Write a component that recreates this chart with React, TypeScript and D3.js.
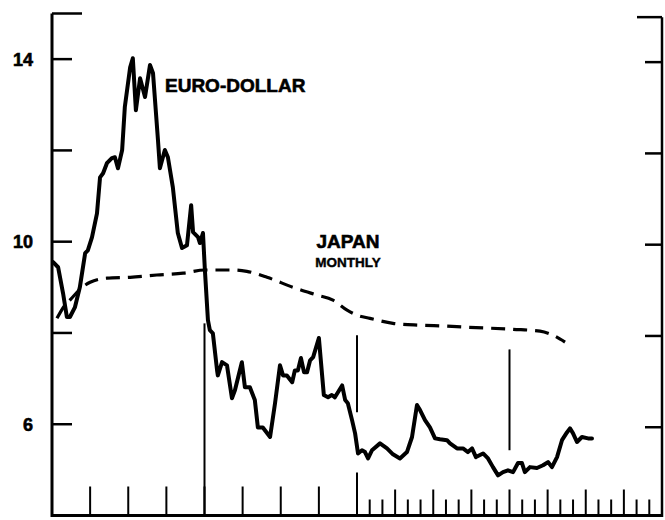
import React from 'react';
import * as d3 from 'd3';

// period index: 0..8 = quarters (first two years), 8..32 = months (last two years)
const euroPeriods = [
  0.03, 0.16, 0.29, 0.39, 0.47, 0.6, 0.73, 0.87, 0.94, 1.05, 1.18, 1.26, 1.34, 1.44, 1.57, 1.65,
  1.73, 1.84, 1.91, 2.05, 2.12, 2.2, 2.31, 2.44, 2.57, 2.65, 2.78, 2.83, 2.96, 3.04, 3.17, 3.3,
  3.41, 3.54, 3.65, 3.7, 3.83, 3.88, 3.96, 4.01, 4.09, 4.14, 4.22, 4.33, 4.35, 4.46, 4.59, 4.72,
  4.8, 4.98, 5.06, 5.19, 5.32, 5.4, 5.53, 5.72, 5.85, 5.98, 6.06, 6.16, 6.3, 6.37, 6.45, 6.53,
  6.61, 6.69, 6.77, 6.85, 7.0, 7.13, 7.24, 7.34, 7.42, 7.61, 7.69, 7.76, 7.87, 7.95, 8.08, 8.39,
  8.63, 8.87, 9.18, 9.81, 10.36, 10.83, 11.38, 11.93, 12.33, 12.72, 12.96, 13.35, 13.74, 14.14,
  14.53, 15.08, 15.32, 15.87, 16.34, 16.73, 17.05, 17.36, 17.92, 18.31, 18.7, 19.1, 19.49, 19.88,
  20.28, 20.67, 20.98, 21.21, 21.61, 22.16, 22.64, 23.03, 23.34, 23.74, 24.13, 24.52, 24.76, 25.0,
  25.31, 25.7, 26.18, 26.49,
];
const euroRates = [
  9.55, 9.44, 8.87, 8.35, 8.35, 8.56, 9.0, 9.75, 9.81, 10.1, 10.62, 11.41, 11.5, 11.72, 11.83, 11.85,
  11.61, 12.01, 12.95, 13.82, 14.02, 12.88, 13.58, 13.17, 13.87, 13.69, 12.22, 11.61, 12.01, 11.85, 11.19, 10.19,
  9.86, 9.92, 10.8, 10.21, 10.1, 9.97, 10.19, 9.38, 8.28, 8.06, 7.99, 7.18, 7.07, 7.36, 7.29, 6.57,
  6.75, 7.36, 6.81, 6.81, 6.53, 5.93, 5.93, 5.72, 6.46, 7.29, 7.07, 7.07, 6.92, 7.18, 7.18, 7.45,
  7.14, 7.14, 7.4, 7.47, 7.89, 6.64, 6.59, 6.64, 6.59, 6.85, 6.53, 6.46, 6.09, 5.8, 5.36, 5.43,
  5.39, 5.25, 5.43, 5.58, 5.47, 5.34, 5.25, 5.39, 5.72, 6.42, 6.31, 6.09, 5.93, 5.69,
  5.67, 5.65, 5.58, 5.47, 5.47, 5.39, 5.47, 5.28, 5.36, 5.25, 5.06, 4.88, 4.95, 4.99,
  4.95, 5.15, 5.15, 4.95, 5.06, 5.04, 5.1, 5.17, 5.06, 5.28, 5.65, 5.82, 5.91, 5.8,
  5.61, 5.72, 5.69, 5.69,
];

const japanPeriods = [
  0.13, 0.34, 0.47, 0.79, 1.0, 1.44, 2.05, 2.75, 3.44, 4.01, 4.75, 5.11, 5.64, 6.32, 6.95, 7.37,
  7.74, 8.0, 9.02, 10.83, 12.96, 15.08, 16.34, 20.28, 22.4, 23.43, 24.37,
];
const japanRates = [
  8.32, 8.61, 8.72, 9.0, 9.11, 9.2, 9.22, 9.27, 9.31, 9.38, 9.38, 9.35, 9.22, 9.0, 8.83, 8.72,
  8.5, 8.39, 8.32, 8.21, 8.17, 8.15, 8.13, 8.08, 8.04, 7.95, 7.8,
];

const yTicks = [6, 8, 10, 12, 14];
const yLabels = [6, 10, 14];
const quarterTicks = [1, 2, 3, 4, 5, 6, 7];
const monthTicks = d3.range(9, 32);
// vertical markers: [period, from rate, to rate]
const markers: [number, number, number][] = [
  [4, 4, 8.21],
  [8, 6.26, 7.95],
  [20, 5.43, 7.64],
];

const W = 665;
const H = 520;

export default function App() {
  const x = d3.scaleLinear().domain([0, 8, 32]).range([52, 357, 662]);
  const y = d3.scaleLinear().domain([4, 15]).range([515.5, 13.5]);

  const euro = euroPeriods.map((p, i) => [p, euroRates[i]] as [number, number]);
  const japan = japanPeriods.map((p, i) => [p, japanRates[i]] as [number, number]);

  const solid = d3.line<[number, number]>().x((d) => x(d[0])).y((d) => y(d[1]));
  const dashed = d3
    .line<[number, number]>()
    .x((d) => x(d[0]))
    .y((d) => y(d[1]))
    .curve(d3.curveMonotoneX);

  const font = "'Liberation Sans', Arial, sans-serif";
  const x0 = x(0);
  const x1 = x(32);
  const yb = y(4);

  return (
    <svg width={W} height={H} style={{ position: 'absolute', left: 0, top: 0, background: '#fff' }}>
      <rect width={W} height={H} fill="#fff" />
      {/* frame */}
      <line x1={x0} x2={x0} y1={y(15)} y2={yb + 1.5} stroke="#000" strokeWidth={3} />
      <line x1={x1} x2={x1} y1={y(14.92)} y2={yb + 1.5} stroke="#000" strokeWidth={2.5} />
      <line x1={x0} x2={x1} y1={yb} y2={yb} stroke="#000" strokeWidth={3} />
      <line x1={x0} x2={x0 + 30} y1={y(15)} y2={y(15)} stroke="#000" strokeWidth={2.5} />
      <line x1={x1 - 25} x2={x1} y1={y(14.92)} y2={y(14.92)} stroke="#000" strokeWidth={2.5} />

      {/* y ticks */}
      {yTicks.map((t) => (
        <g key={t}>
          <line x1={x0} x2={x0 + 20} y1={y(t)} y2={y(t)} stroke="#000" strokeWidth={2.5} />
          <line x1={x1 - 17} x2={x1} y1={y(t) + 3} y2={y(t) + 3} stroke="#000" strokeWidth={2.5} />
        </g>
      ))}
      {yLabels.map((t) => (
        <text
          key={t}
          x={33}
          y={y(t)}
          dy="0.36em"
          textAnchor="end"
          fontFamily={font}
          fontWeight="bold"
          fontSize={18}
          stroke="#000"
          strokeWidth={0.6}
        >
          {t}
        </text>
      ))}

      {/* x ticks */}
      {quarterTicks.map((t) => (
        <line key={'q' + t} x1={x(t)} x2={x(t)} y1={yb} y2={yb - 29} stroke="#000" strokeWidth={2} />
      ))}
      <line x1={x(8)} x2={x(8)} y1={yb} y2={yb - 43} stroke="#000" strokeWidth={2} />
      {monthTicks.map((t) => (
        <line
          key={'m' + t}
          x1={x(t)}
          x2={x(t)}
          y1={yb}
          y2={yb - ((t - 8) % 3 === 0 ? 26 : 16)}
          stroke="#000"
          strokeWidth={2}
        />
      ))}
      {markers.map(([p, a, b]) => (
        <line key={'v' + p} x1={x(p)} x2={x(p)} y1={y(a)} y2={y(b)} stroke="#000" strokeWidth={2} />
      ))}

      {/* series */}
      <path
        d={dashed(japan) || ''}
        fill="none"
        stroke="#000"
        strokeWidth={3.2}
        strokeDasharray="14 8"
      />
      <path
        d={solid(euro) || ''}
        fill="none"
        stroke="#000"
        strokeWidth={4}
        strokeLinejoin="round"
        strokeLinecap="round"
      />

      {/* labels */}
      <text x={165} y={92} fontFamily={font} fontWeight="bold" fontSize={19} stroke="#000" strokeWidth={0.6}>
        EURO-DOLLAR
      </text>
      <text
        x={348}
        y={248}
        textAnchor="middle"
        fontFamily={font}
        fontWeight="bold"
        fontSize={19}
        stroke="#000"
        strokeWidth={0.6}
      >
        JAPAN
      </text>
      <text
        x={348}
        y={267}
        textAnchor="middle"
        fontFamily={font}
        fontWeight="bold"
        fontSize={13.5}
        stroke="#000"
        strokeWidth={0.4}
      >
        MONTHLY
      </text>
    </svg>
  );
}
